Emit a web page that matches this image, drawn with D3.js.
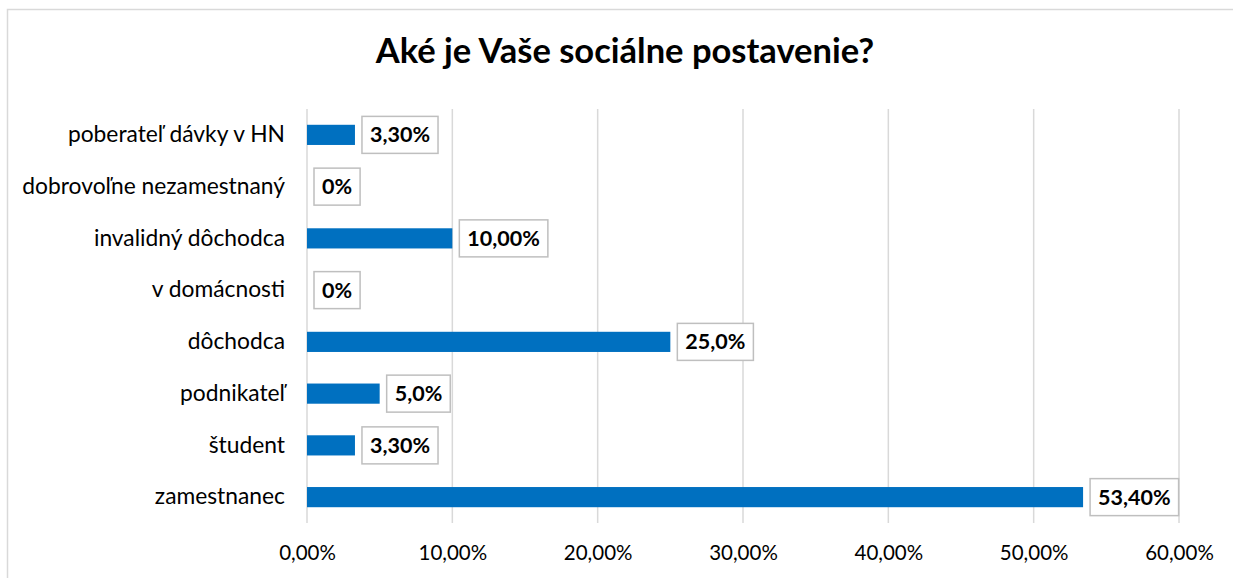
<!DOCTYPE html>
<html>
<head>
<meta charset="UTF-8">
<title>Sociálne postavenie</title>
<script src="https://cdn.jsdelivr.net/npm/d3@7"></script>
<style>
  body { margin: 0; background: #fff; }
  svg { display: block; font-family: Lato, "Open Sans", sans-serif; }
</style>
</head>
<body>
<script>
const categories = ["poberateľ dávky v HN", "dobrovoľne nezamestnaný", "invalidný dôchodca",
  "v domácnosti", "dôchodca", "podnikateľ", "študent", "zamestnanec"]
const values = [3.3, 0, 10, 0, 25, 5, 3.3, 53.4]
const valueLabels = ["3,30%", "0%", "10,00%", "0%", "25,0%", "5,0%", "3,30%", "53,40%"]
const ticks = [0, 10, 20, 30, 40, 50, 60]
const title = "Aké je Vaše sociálne postavenie?"

const width = 1233, height = 578
const margin = { top: 109, right: 54, bottom: 55, left: 307 }
const plotW = width - margin.left - margin.right
const plotH = height - margin.top - margin.bottom

const svg = d3.select("body").append("svg")
  .attr("width", width)
  .attr("height", height)

// chart frame
svg.append("rect")
  .attr("x", 7.5).attr("y", 9.5)
  .attr("width", 1240).attr("height", 600)
  .attr("fill", "none").attr("stroke", "#d9d9d9").attr("stroke-width", 1.5)

svg.append("text")
  .attr("x", 625).attr("y", 63)
  .attr("text-anchor", "middle")
  .attr("font-size", 34.5).attr("font-weight", "bold")
  .attr("fill", "#000")
  .text(title)

const g = svg.append("g")
  .attr("transform", "translate(" + margin.left + "," + margin.top + ")")

const x = d3.scaleLinear().domain([0, 60]).range([0, plotW])
const y = d3.scaleBand().domain(categories).range([0, plotH]).paddingInner(0.61).paddingOuter(0.305)

// grid
g.selectAll(".grid").data(ticks).join("line")
  .attr("x1", d => x(d)).attr("x2", d => x(d))
  .attr("y1", 0).attr("y2", plotH)
  .attr("stroke", "#d9d9d9").attr("stroke-width", 1.5)

// x axis labels
const xAxis = g.append("g")
  .attr("transform", "translate(0," + plotH + ")")
  .call(d3.axisBottom(x).tickValues(ticks).tickSize(0).tickPadding(22)
    .tickFormat(d => d.toFixed(2).replace(".", ",") + "%"))
xAxis.select(".domain").remove()
xAxis.selectAll("text").attr("font-size", 20.5).attr("fill", "#000")
  .attr("font-family", "Lato, 'Open Sans', sans-serif")

// y axis labels
const yAxis = g.append("g")
  .call(d3.axisLeft(y).tickSize(0).tickPadding(22))
yAxis.select(".domain").remove()
yAxis.selectAll("text").attr("font-size", 22.8).attr("fill", "#000")
  .attr("font-family", "Lato, 'Open Sans', sans-serif")

// bars
g.selectAll(".bar").data(values).join("rect")
  .attr("x", x(0))
  .attr("y", (d, i) => y(categories[i]))
  .attr("width", d => x(d) - x(0))
  .attr("height", y.bandwidth())
  .attr("fill", "#0070c0")

// data labels in boxes
const lab = g.selectAll(".lab").data(values).join("g")
  .attr("transform", (d, i) => "translate(" + (x(d) + 7) + "," + (y(categories[i]) + y.bandwidth() / 2) + ")")
lab.append("rect")
  .attr("fill", "#fff").attr("stroke", "#bfbfbf").attr("stroke-width", 1.5)
const txt = lab.append("text")
  .attr("font-size", 21.5).attr("font-weight", "bold").attr("fill", "#000")
  .attr("dy", "0.35em")
  .text((d, i) => valueLabels[i])
txt.each(function () {
  const w = this.getComputedTextLength()
  const pad = 8
  d3.select(this).attr("x", pad)
  d3.select(this.parentNode).select("rect")
    .attr("x", 0).attr("y", -18.5).attr("width", w + pad * 2).attr("height", 37)
})
</script>
</body>
</html>
